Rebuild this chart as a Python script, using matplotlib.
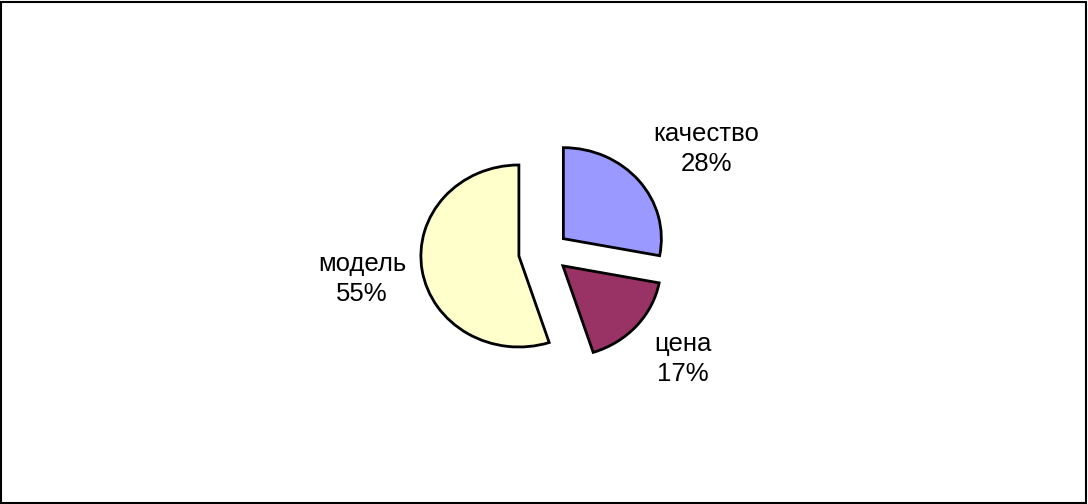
import matplotlib.pyplot as plt
from matplotlib.patches import Rectangle

labels = ['качество', 'цена', 'модель']
values = [28, 17, 55]
colors = ['#9999FF', '#993366', '#FFFFCC']
explode = [0.23, 0.23, 0.28]
label_pos = [(706, 149), (683, 359), (362, 279)]

plt.rcParams['font.family'] = ['Liberation Sans', 'DejaVu Sans']

W, H = 1088, 504
cx, cy = 546, 252     # центр круга, пиксели от верха
rx, ry = 98, 91       # диаграмма чуть сплюснута

fig = plt.figure(figsize=(W / 100, H / 100), dpi=100)

# подписи — в пиксельных координатах
ax = fig.add_axes([0, 0, 1, 1])
ax.set_xlim(0, W)
ax.set_ylim(H, 0)
ax.axis('off')

for lab, v, (x, y) in zip(labels, values, label_pos):
    ax.text(x, y, f'{lab}\n{v}%', ha='center', va='center',
            fontsize=18.5, linespacing=1.3, color='black')

# круговая
ax2 = fig.add_axes([0, 0, 1, 1])
ax2.pie(values, colors=colors, startangle=90, counterclock=False,
        explode=explode,
        wedgeprops=dict(edgecolor='black', linewidth=2))
ax2.set_aspect('auto')
ax2.set_xlim(-cx / rx, (W - cx) / rx)
ax2.set_ylim(-(H - cy) / ry, cy / ry)
ax2.axis('off')

fig.patches.append(Rectangle((0.001, 0.002), 0.997, 0.995, transform=fig.transFigure,
                             fill=False, edgecolor='black', linewidth=1.5))

fig.savefig('out.png', dpi=100)
